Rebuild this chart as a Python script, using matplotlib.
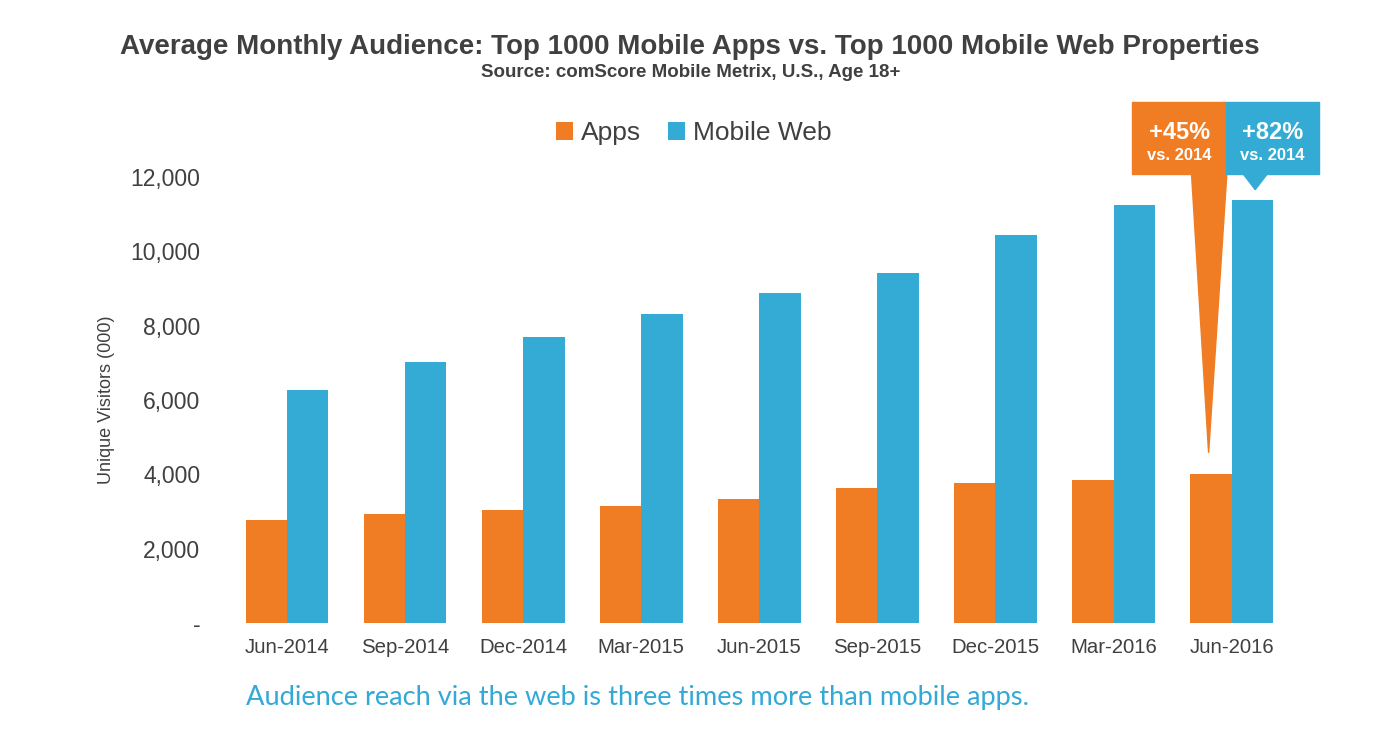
import matplotlib.pyplot as plt
from matplotlib.patches import Rectangle, Polygon
import numpy as np

plt.rcParams['font.family'] = ['Liberation Sans', 'DejaVu Sans']

months = ['Jun-2014', 'Sep-2014', 'Dec-2014', 'Mar-2015', 'Jun-2015',
          'Sep-2015', 'Dec-2015', 'Mar-2016', 'Jun-2016']
apps = [2770, 2930, 3040, 3150, 3340, 3630, 3770, 3850, 4010]
mobile_web = [6270, 7030, 7700, 8320, 8880, 9420, 10440, 11250, 11390]
yticks = [0, 2000, 4000, 6000, 8000, 10000, 12000]
ytick_labels = ['-', '2,000', '4,000', '6,000', '8,000', '10,000', '12,000']

orange = '#F07C23'
blue = '#33ABD5'
grey = '#404040'

fig = plt.figure(figsize=(14, 7.52), dpi=100)
ax = fig.add_axes([0.1629, 0.1715, 0.759, 0.5931])

x = np.arange(len(months))
w = 0.35
ax.bar(x - w / 2, apps, w, color=orange, label='Apps')
ax.bar(x + w / 2, mobile_web, w, color=blue, label='Mobile Web')

ax.set_xlim(-0.5, len(months) - 0.5)
ax.set_ylim(0, 12000)
ax.set_yticks(yticks)
ax.set_yticklabels(ytick_labels)
ax.set_xticks(x)
ax.set_xticklabels(months)
ax.tick_params(axis='y', length=0, pad=20, labelsize=16.5, labelcolor=grey)
ax.tick_params(axis='x', length=0, pad=11, labelsize=14.7, labelcolor=grey)
for s in ax.spines.values():
    s.set_visible(False)
ax.set_ylabel('Unique Visitors (000)', fontsize=13, color=grey, labelpad=11)

fig.text(0.493, 0.938, 'Average Monthly Audience: Top 1000 Mobile Apps vs. Top 1000 Mobile Web Properties',
         ha='center', va='center', fontsize=20, fontweight='bold', color=grey)
fig.text(0.493, 0.903, 'Source: comScore Mobile Metrix, U.S., Age 18+',
         ha='center', va='center', fontsize=13.5, fontweight='bold', color=grey)

leg = fig.legend(loc='center', bbox_to_anchor=(0.4955, 0.823), ncol=2, frameon=False,
                 fontsize=19, handlelength=0.65, handleheight=0.65,
                 handletextpad=0.3, columnspacing=1.0)
for t in leg.get_texts():
    t.set_color(grey)

fig.text(0.455, 0.073, 'Audience reach via the web is three times more than mobile apps.',
         ha='center', va='center', fontsize=19.6, color='#33A9D6', family=['Lato', 'DejaVu Sans'])

# callouts on the last group
i = len(months) - 1
xa = i - w / 2
xw = i + w / 2
box_lo, box_hi = 12090, 14020
ax.add_patch(Rectangle((xa - 0.67, box_lo), 0.795, box_hi - box_lo,
                       color=orange, clip_on=False, zorder=3))
ax.add_patch(Polygon([(xa - 0.165, box_lo + 10), (xa + 0.135, box_lo + 10),
                      (xa - 0.02, apps[i] + 570)],
                     closed=True, color=orange, clip_on=False, zorder=3))
ax.add_patch(Rectangle((xa + 0.125, box_lo - 20), 0.79, box_hi - box_lo + 20,
                       color=blue, clip_on=False, zorder=3))
ax.add_patch(Polygon([(xw - 0.075, box_lo - 15), (xw + 0.125, box_lo - 15),
                      (xw + 0.025, mobile_web[i] + 270)],
                     closed=True, color=blue, clip_on=False, zorder=3))
for cx, pct in [(xa - 0.27, '+45%'), (xa + 0.52, '+82%')]:
    ax.text(cx, 13210, pct, ha='center', va='center', fontsize=17,
            fontweight='bold', color='white', zorder=4, clip_on=False)
    ax.text(cx, 12570, 'vs. 2014', ha='center', va='center', fontsize=12,
            fontweight='bold', color='white', zorder=4, clip_on=False)

fig.savefig('out.png', dpi=100, facecolor='white')
